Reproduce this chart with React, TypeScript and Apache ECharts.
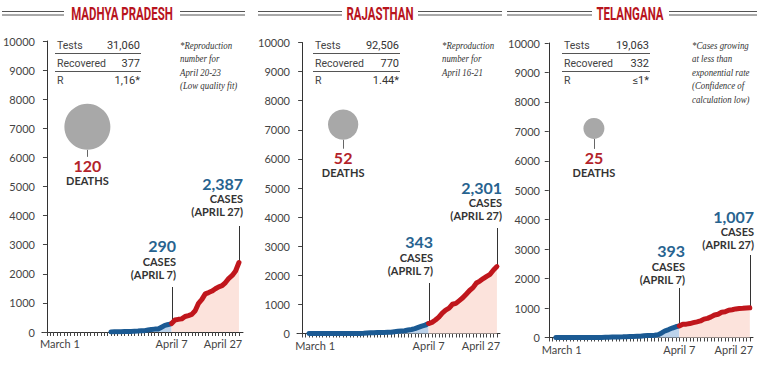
import React, { useEffect, useRef } from 'react';
import * as echarts from 'echarts';

// ---------- data ----------
const states = ['MADHYA PRADESH', 'RAJASTHAN', 'TELANGANA'];
const tests = ['31,060', '92,506', '19,063'];
const recovered = ['377', '770', '332'];
const rValues = ['1,16*', '1.44*', '≤1*'];
const deaths = [120, 52, 25];
const notes = [
  ['*Reproduction', 'number for', 'April 20-23', '(Low quality fit)'],
  ['*Reproduction', 'number for', 'April 16-21'],
  ['*Cases growing', 'at less than', 'exponential rate', '(Confidence of', 'calculation low)'],
];
const xLabelDays = [0, 37, 57]; // days since March 1
const xTickLabels = ['March 1', 'April 7', 'April 27'];
const yTicks = [0, 1000, 2000, 3000, 4000, 5000, 6000, 7000, 8000, 9000, 10000];

// cumulative cases, blue = up to April 7 (day 37), red = April 7 .. April 27 (day 57)
const mpBlueStart = 19;
const mpBlue = [4, 6, 7, 9, 14, 15, 20, 30, 33, 39, 47, 66, 86, 99, 104, 165, 229, 256, 290];
const mpRed = [290, 411, 435, 451, 532, 562, 604, 730, 987, 1120, 1310, 1355, 1407, 1485, 1552, 1592, 1699, 1846, 1945, 2096, 2387];

const rjBlueStart = 2;
const rjBlue = [1, 2, 2, 2, 2, 2, 2, 2, 2, 3, 3, 4, 4, 4, 4, 4, 7, 17, 23, 25, 32, 36, 38, 40, 43, 60, 74, 83, 93, 120, 139, 167, 210, 253, 288, 343];
const rjRed = [343, 383, 463, 561, 700, 804, 873, 1005, 1036, 1131, 1229, 1351, 1478, 1576, 1735, 1801, 1888, 1964, 2034, 2185, 2301];

const tgBlueStart = 2;
const tgBlue = [1, 1, 1, 1, 1, 1, 1, 1, 1, 1, 2, 3, 3, 4, 5, 6, 13, 16, 21, 22, 27, 33, 36, 39, 44, 59, 65, 70, 77, 97, 154, 229, 269, 321, 364, 393];
const tgRed = [393, 453, 453, 473, 503, 531, 562, 624, 650, 700, 766, 791, 858, 872, 928, 943, 970, 984, 990, 1001, 1007];

const blueStarts = [mpBlueStart, rjBlueStart, tgBlueStart];
const blueVals = [mpBlue, rjBlue, tgBlue];
const redVals = [mpRed, rjRed, tgRed];
const casesApr7 = [290, 343, 393];
const casesApr27 = [2387, 2301, 1007];
// position of the deaths bubble (day, value)
const deathPos = [[12, 7050], [12, 7180], [12.8, 7100]];

// ---------- layout / style ----------
const grids = [
  { left: 40, top: 41, width: 203, height: 291 },
  { left: 297, top: 42.5, width: 203, height: 291 },
  { left: 547, top: 43, width: 206, height: 294.5 },
];
const xRanges = [[-1.5, 58.2], [-1.5, 57.9], [-0.5, 57.9]];
const titleCenters = [122, 380, 630];
const titleLines = [[2, 64, 180, 245], [258, 342, 418, 502], [507, 592, 669, 757]];
const tableX = [[55, 140], [313, 399], [562, 649]];
const noteX = [180, 442, 692];
const labelDist = [7, 9, 10];
// annotation layout: right edge, number-y, stem top
const ann7 = [[176, 245, 287], [433, 241, 283], [685, 250, 288]];
const ann27 = [[243, 183, 226], [502, 187, 228], [754, 216, 255]];

const BLUE = '#1b5a93';
const RED = '#c0161c';
const NUMBLUE = '#27638f';
const DEATHRED = '#b3232a';
const DARK = '#333333';
const FONT = 'Lato, "Open Sans", sans-serif';

const xTicks: number[] = [];
for (let d = 0; d <= 57; d++) xTicks.push(d);

export default function App() {
  const ref = useRef<HTMLDivElement>(null);
  useEffect(() => {
    const chart = echarts.init(ref.current!, null, { renderer: 'svg' });
    const xAxis: any[] = [];
    const yAxis: any[] = [];
    const series: any[] = [];
    grids.forEach((g, i) => {
      xAxis.push({
        type: 'value', gridIndex: i, min: xRanges[i][0], max: xRanges[i][1],
        axisLine: { show: true, onZero: false, lineStyle: { color: DARK, width: 1 } },
        axisTick: { show: true, customValues: xTicks, length: 4, lineStyle: { color: '#444' } },
        splitLine: { show: false },
        axisLabel: {
          show: true, customValues: xLabelDays, margin: 6,
          fontFamily: FONT, fontSize: 11, color: '#444',
          formatter: (v: number) => {
            const idx = xLabelDays.indexOf(Math.round(v));
            if (idx === 0) return `{l|${xTickLabels[0]}}`;
            if (idx === 1) return `{c|${xTickLabels[1]}}`;
            if (idx === 2) return `{r|${xTickLabels[2]}}`;
            return '';
          },
          rich: {
            l: { fontFamily: FONT, fontSize: 11, color: '#444', padding: [0, 0, 0, 26] },
            c: { fontFamily: FONT, fontSize: 11, color: '#444' },
            r: { fontFamily: FONT, fontSize: 11, color: '#444', padding: [0, 32, 0, 0] },
          },
        },
      });
      yAxis.push({
        type: 'value', gridIndex: i, min: 0, max: 10000, interval: 1000,
        axisLine: { show: true, lineStyle: { color: DARK, width: 1 } },
        axisTick: { show: true, length: 4, lineStyle: { color: '#444' } },
        splitLine: { show: false },
        axisLabel: { margin: 7, fontFamily: FONT, fontSize: 11, color: '#444',
          formatter: (v: number) => (yTicks.indexOf(v) >= 0 ? String(v) : '') },
      });
      series.push({
        type: 'line', xAxisIndex: i, yAxisIndex: i, silent: true,
        data: blueVals[i].map((v, k) => [blueStarts[i] + k, v]),
        showSymbol: false, lineStyle: { color: BLUE, width: 5, cap: 'round', join: 'round' },
        itemStyle: { color: BLUE },
        areaStyle: { color: '#bcd3eb', opacity: 1 }, z: 2,
      });
      series.push({
        type: 'line', xAxisIndex: i, yAxisIndex: i, silent: true,
        data: redVals[i].map((v, k) => [37 + k, v]),
        showSymbol: false, lineStyle: { color: RED, width: 5, cap: 'round', join: 'round' },
        itemStyle: { color: RED },
        areaStyle: { color: '#fce3dc', opacity: 1 }, z: 3,
      });
      series.push({
        type: 'scatter', xAxisIndex: i, yAxisIndex: i, silent: true,
        data: [deathPos[i]],
        symbolSize: 2 * 2.1 * Math.sqrt(deaths[i]),
        itemStyle: { color: '#a8a8a8', opacity: 1 },
        label: {
          show: true, position: 'bottom', distance: labelDist[i],
          formatter: `{n|${deaths[i]}}\n{d|DEATHS}`,
          rich: {
            n: { fontFamily: FONT, fontWeight: 'bold', fontSize: 16, color: DEATHRED, lineHeight: 17, align: 'center' },
            d: { fontFamily: FONT, fontWeight: 'bold', fontSize: 11, color: DARK, lineHeight: 14, align: 'center' },
          },
        },
        z: 4,
      });
    });

    chart.setOption({
      animation: false,
      backgroundColor: '#ffffff',
      grid: grids.map((g) => ({ ...g, containLabel: false })),
      xAxis, yAxis, series,
    });

    const gr: any[] = [];
    const txt = (x: number, y: number, text: string, s: any, extra: any = {}) => ({
      type: 'text', x, y, silent: true, ...extra,
      style: { text, fontFamily: FONT, fontSize: 11, fill: DARK, align: 'left', verticalAlign: 'middle', ...s },
    });
    const ln = (x1: number, y1: number, x2: number, y2: number, color = DARK, w = 1) => ({
      type: 'line', silent: true, shape: { x1, y1, x2, y2 }, style: { stroke: color, lineWidth: w },
    });
    states.forEach((name, i) => {
      // title
      gr.push({
        type: 'text', x: titleCenters[i], y: 14, scaleX: 0.62, silent: true,
        style: { text: name, fontFamily: 'Roboto, sans-serif', fontWeight: 'bold', fontSize: 18.5, fill: '#b8141d', align: 'center', verticalAlign: 'middle' },
      });
      const tl = titleLines[i];
      [11.5, 15].forEach((yy) => {
        gr.push(ln(tl[0], yy, tl[1], yy, '#555', 1));
        gr.push(ln(tl[2], yy, tl[3], yy, '#555', 1));
      });
      // table
      const [tx0, tx1] = tableX[i];
      const rows = [['Tests', tests[i]], ['Recovered', recovered[i]], ['R', rValues[i]]];
      const ry = [45, 63, 80.5];
      rows.forEach((r, k) => {
        gr.push(txt(tx0 + 2, ry[k], r[0], { fontFamily: 'Roboto, sans-serif', fontSize: 10.5, fill: '#444' }));
        gr.push(txt(tx1, ry[k], r[1], { fontFamily: 'Roboto, sans-serif', fontSize: 11, fill: '#333', align: 'right' }));
      });
      gr.push(ln(tx0, 53.5, tx1 + 1, 53.5, '#555'));
      gr.push(ln(tx0, 71.5, tx1 + 1, 71.5, '#555'));
      // notes
      notes[i].forEach((t, k) => {
        gr.push(txt(noteX[i], 45 + k * 13.5, t,
          { fontFamily: '"Liberation Serif", "DejaVu Serif", serif', fontStyle: 'italic', fontSize: 10.5, fill: '#333' },
          { scaleX: 0.84 }));
      });
      // deaths stem
      const c = chart.convertToPixel({ gridIndex: i } as any, deathPos[i]) as number[];
      const r = 2.1 * Math.sqrt(deaths[i]);
      gr.push(ln(Math.round(c[0]) + 0.5, c[1] + r, Math.round(c[0]) + 0.5, c[1] + r + labelDist[i], '#666'));
      // case annotations
      const p7 = chart.convertToPixel({ gridIndex: i } as any, [37, casesApr7[i]]) as number[];
      const p27 = chart.convertToPixel({ gridIndex: i } as any, [57, casesApr27[i]]) as number[];
      const a7 = ann7[i];
      const a27 = ann27[i];
      gr.push(ln(Math.round(p7[0]) + 0.5, a7[2], Math.round(p7[0]) + 0.5, p7[1], DARK));
      gr.push(ln(Math.round(p27[0]) + 0.5, a27[2], Math.round(p27[0]) + 0.5, p27[1], DARK));
      gr.push(txt(a7[0], a7[1], casesApr7[i].toLocaleString('en-US'), { fontWeight: 'bold', fontSize: 16, fill: NUMBLUE, align: 'right' }));
      gr.push(txt(a7[0], a7[1] + 16, 'CASES', { fontWeight: 'bold', fontSize: 11, fill: DARK, align: 'right' }));
      gr.push(txt(a7[0], a7[1] + 29.5, '(APRIL 7)', { fontWeight: 'bold', fontSize: 11, fill: DARK, align: 'right' }));
      gr.push(txt(a27[0], a27[1], casesApr27[i].toLocaleString('en-US'), { fontWeight: 'bold', fontSize: 16, fill: NUMBLUE, align: 'right' }));
      gr.push(txt(a27[0], a27[1] + 15, 'CASES', { fontWeight: 'bold', fontSize: 11, fill: DARK, align: 'right' }));
      gr.push(txt(a27[0], a27[1] + 28.5, '(APRIL 27)', { fontWeight: 'bold', fontSize: 11, fill: DARK, align: 'right' }));
    });
    chart.setOption({ graphic: gr });

    return () => chart.dispose();
  }, []);
  return <div ref={ref} style={{ position: 'absolute', left: 0, top: 0, width: 759, height: 369, background: '#fff' }} />;
}
